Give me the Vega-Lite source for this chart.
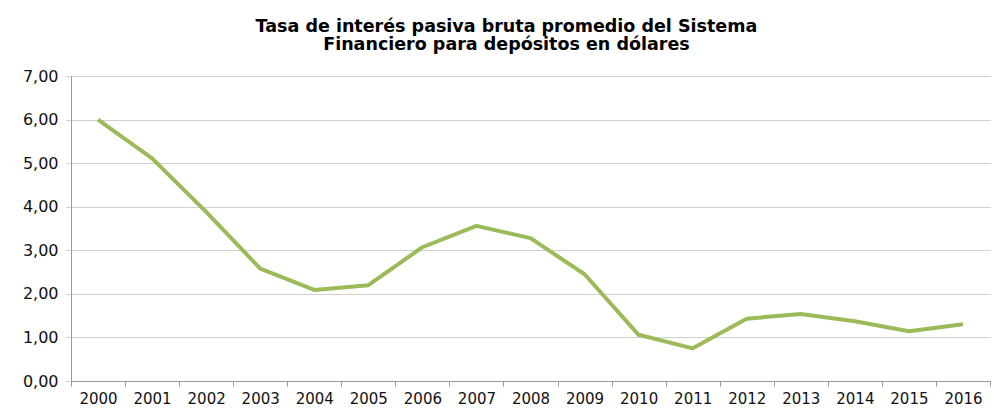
{
  "$schema": "https://vega.github.io/schema/vega-lite/v6.json",
  "autosize": "none",
  "width": 919,
  "height": 305,
  "padding": {"left": 71, "top": 76, "right": 11, "bottom": 31},
  "background": "white",
  "title": {
    "text": ["Tasa de interés pasiva bruta promedio del Sistema", "Financiero para depósitos en dólares"],
    "font": "DejaVu Sans",
    "fontSize": 17.5,
    "fontWeight": "bold",
    "color": "#000000",
    "anchor": "middle",
    "frame": "bounds",
    "lineHeight": 18,
    "offset": 15
  },
  "data": {
    "values": [
      {"anio": "2000", "tasa": 6.00},
      {"anio": "2001", "tasa": 5.11},
      {"anio": "2002", "tasa": 3.88},
      {"anio": "2003", "tasa": 2.58},
      {"anio": "2004", "tasa": 2.09},
      {"anio": "2005", "tasa": 2.20},
      {"anio": "2006", "tasa": 3.07},
      {"anio": "2007", "tasa": 3.56},
      {"anio": "2008", "tasa": 3.28},
      {"anio": "2009", "tasa": 2.45},
      {"anio": "2010", "tasa": 1.06},
      {"anio": "2011", "tasa": 0.75},
      {"anio": "2012", "tasa": 1.43},
      {"anio": "2013", "tasa": 1.54},
      {"anio": "2014", "tasa": 1.37},
      {"anio": "2015", "tasa": 1.14},
      {"anio": "2016", "tasa": 1.30}
    ]
  },
  "mark": {"type": "line", "color": "#9BBB59", "strokeWidth": 4, "strokeJoin": "round"},
  "encoding": {
    "x": {
      "field": "anio",
      "type": "nominal",
      "scale": {"type": "band", "paddingInner": 0, "paddingOuter": 0},
      "axis": {
        "title": null,
        "labelAngle": 0,
        "labelFont": "DejaVu Sans",
        "labelFontSize": 15,
        "labelColor": "#111111",
        "labelPadding": 5,
        "tickBand": "extent",
        "tickSize": 5,
        "tickColor": "#999999",
        "domainColor": "#999999",
        "grid": false
      }
    },
    "y": {
      "field": "tasa",
      "type": "quantitative",
      "scale": {"domain": [0, 7], "nice": false},
      "axis": {
        "title": null,
        "values": [0, 1, 2, 3, 4, 5, 6, 7],
        "labelExpr": "replace(format(datum.value, '.2f'), '.', ',')",
        "labelFont": "DejaVu Sans",
        "labelFontSize": 16,
        "labelColor": "#111111",
        "labelPadding": 8,
        "tickSize": 5,
        "tickColor": "#a0a0a0",
        "tickDash": [1, 1],
        "domainColor": "#999999",
        "grid": true,
        "gridColor": "#a0a0a0",
        "gridDash": [1, 1],
        "gridWidth": 1
      }
    }
  },
  "config": {"view": {"stroke": null}}
}
